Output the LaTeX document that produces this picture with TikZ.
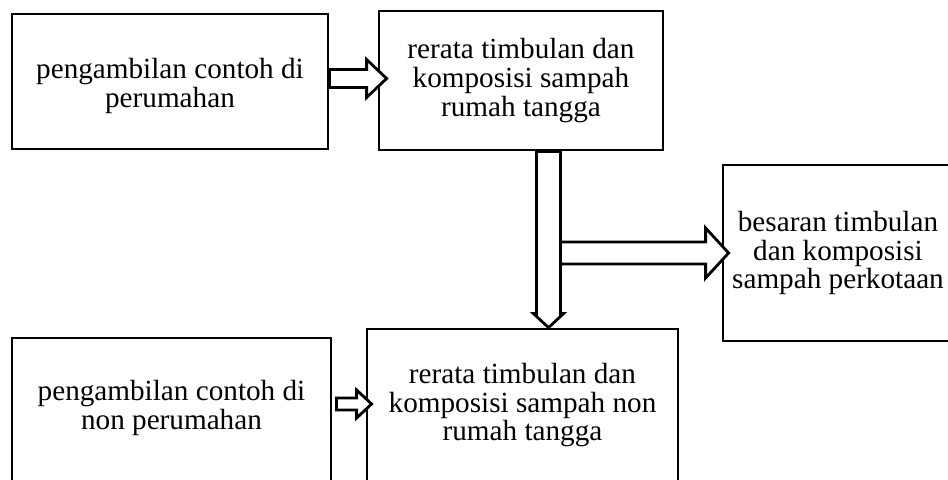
\documentclass[tikz,border=0pt]{standalone}
\usepackage{fontspec}
\setmainfont{Liberation Serif}
\usepackage{tikz}
\usetikzlibrary{calc}

% fat block arrows: start, tip, shaft half, head half, head length
\newcommand{\fatarrowh}[5]{%
  \draw[blockarrow] let \p1=(#1), \p2=(#2) in
    (\x1,\y2+#3) -- (\x2-#5,\y2+#3) -- (\x2-#5,\y2+#4) -- (\x2,\y2) --
    (\x2-#5,\y2-#4) -- (\x2-#5,\y2-#3) -- (\x1,\y2-#3) -- cycle;}
\newcommand{\fatarrowv}[5]{%
  \draw[blockarrow] let \p1=(#1), \p2=(#2) in
    (\x1-#3,\y1) -- (\x1-#3,\y2+#5) -- (\x1-#4,\y2+#5) -- (\x1,\y2) --
    (\x1+#4,\y2+#5) -- (\x1+#3,\y2+#5) -- (\x1+#3,\y1) -- cycle;}
% taller first line pushes the text down, deeper last line pulls it up
\newcommand{\tstrut}[1]{\rule{0pt}{#1}}
\newcommand{\bstrut}[1]{\rule[-#1]{0pt}{#1}}

\begin{document}
\begin{tikzpicture}[x=0.5pt,y=-0.5pt,
    box/.style={draw,line width=1.4pt,align=center,inner sep=0pt,
      font=\fontsize{14.6}{14.3}\selectfont},
    blockarrow/.style={draw,fill=white,line width=1.4pt,line join=miter}]
					\clip (0,0) rectangle (948,479);
					\node[box,minimum width=158pt,minimum height=67.5pt] (sampleHouse) at (170,81.5) {\tstrut{14.5pt}pengambilan contoh di\\perumahan};
					\node[box,minimum width=142pt,minimum height=69.5pt] (avgHouse) at (521,80.5) {rerata timbulan dan\\komposisi sampah\\rumah tangga};
					\node[box,minimum width=115pt,minimum height=88pt] (cityWaste) at (838,253) {besaran timbulan\\dan komposisi\\sampah perkotaan};
					\node[box,minimum width=155.5pt,minimum height=78pt] (avgNonHouse) at (522.5,407) {rerata timbulan dan\\komposisi sampah non\\rumah tangga\bstrut{5pt}};
					\node[box,minimum width=159.5pt,minimum height=74pt] (sampleNonHouse) at (171.5,412) {pengambilan contoh di\\non perumahan\bstrut{7pt}};
					\fatarrowh{sampleHouse.east}{$(avgHouse.west)+(9,-2)$}{4.5pt}{9.5pt}{10pt}
					\fatarrowv{$(avgHouse.south)+(27.5,0)$}{avgNonHouse.north}{6pt}{7.5pt}{7pt}
					\fatarrowh{$(avgHouse.south)+(39.5,0)$}{$(cityWaste.west)+(7,0)$}{5.5pt}{12.5pt}{11.5pt}
					\fatarrowh{$(sampleNonHouse.east)+(4,0)$}{$(avgNonHouse.west)+(6,-3)$}{3pt}{7pt}{7.5pt}
				\end{tikzpicture}
\end{document}
